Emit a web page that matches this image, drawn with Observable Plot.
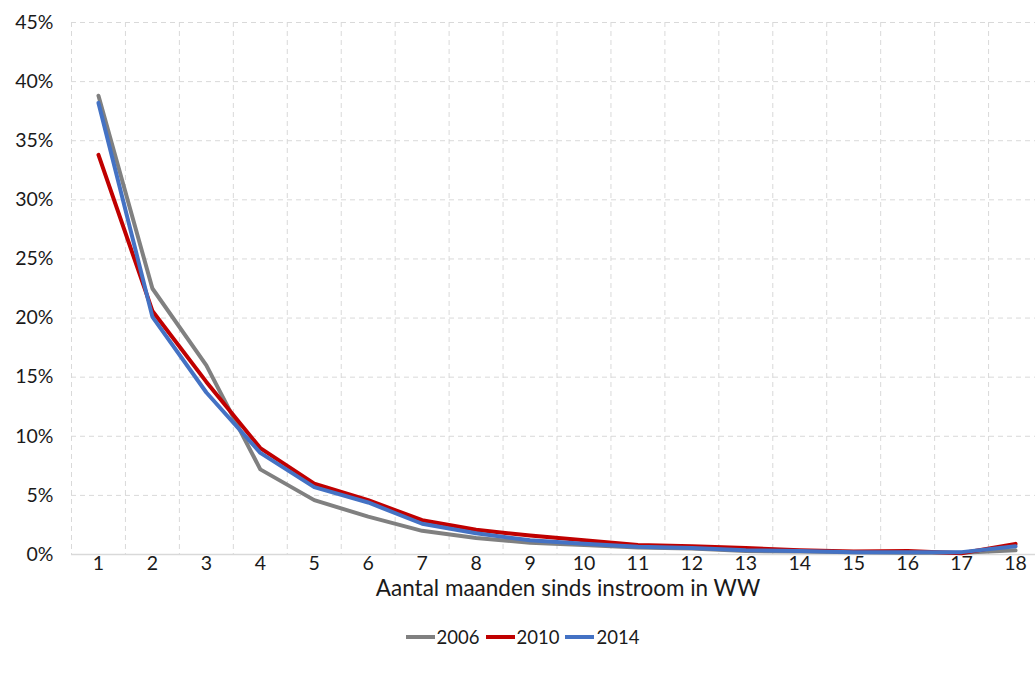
<!DOCTYPE html>
<html>
<head>
<meta charset="utf-8">
<script src="https://cdn.jsdelivr.net/npm/d3@7"></script>
<script src="https://cdn.jsdelivr.net/npm/@observablehq/plot@0.6"></script>
<style>
  html, body { margin: 0; padding: 0; background: #fff; overflow: hidden; }
  body { width: 1035px; height: 675px; font-family: Lato, "Open Sans", sans-serif; color: #1a1a1a; }
  #chart svg { display: block; }
  #xtitle { width: 1035px; height: 30px; position: relative; font-size: 22.5px; line-height: 26px; }
  #xtitle span { position: absolute; left: 568px; top: 3px; transform: translateX(-50%); white-space: nowrap; }
  #legend { display: flex; justify-content: center; align-items: center; gap: 6px; margin-top: 24px; padding-left: 10px; font-size: 18.5px; line-height: 22px; }
  .item { display: flex; align-items: center; gap: 2px; }
  .sw { display: inline-block; width: 29px; height: 4px; }
</style>
</head>
<body>
<div id="chart"></div>
<div id="xtitle"><span></span></div>
<div id="legend"></div>
<script>
const months = [1,2,3,4,5,6,7,8,9,10,11,12,13,14,15,16,17,18];
const seriesNames = ["2006", "2010", "2014"];
const values2006 = [38.8,22.5,16.0,7.2,4.6,3.2,2.0,1.4,1.0,0.8,0.6,0.5,0.3,0.25,0.2,0.15,0.15,0.35];
const values2010 = [33.8,20.6,14.6,9.0,6.0,4.6,2.9,2.1,1.6,1.2,0.8,0.7,0.55,0.35,0.25,0.3,0.1,0.9];
const values2014 = [38.2,20.1,13.7,8.6,5.7,4.4,2.6,1.8,1.2,0.9,0.65,0.55,0.35,0.3,0.2,0.2,0.2,0.7];
const colors = ["#808080", "#c00000", "#4472c4"];
const yTicks = [0,5,10,15,20,25,30,35,40,45];
const xTitle = "Aantal maanden sinds instroom in WW";

const allValues = [values2006, values2010, values2014];
const data = [];
seriesNames.forEach((s, i) => months.forEach((m, j) => data.push({series: s, month: m, value: allValues[i][j]})));
const gridX = months.map(m => m - 0.5);

const chart = Plot.plot({
  width: 1035,
  height: 572,
  marginLeft: 71,
  marginRight: 0,
  marginTop: 22,
  marginBottom: 18,
  style: {fontFamily: "Lato, 'Open Sans', sans-serif", fontSize: "19.5px", color: "#1a1a1a", overflow: "visible"},
  x: {type: "linear", domain: [0.5, 18.37]},
  y: {domain: [0, 45]},
  color: {domain: seriesNames, range: colors},
  marks: [
    Plot.ruleY(yTicks.filter(d => d > 0), {stroke: "#d9d9d9", strokeDasharray: "5,4", strokeWidth: 1}),
    Plot.ruleX(gridX, {stroke: "#d9d9d9", strokeDasharray: "5,4", strokeWidth: 1}),
    Plot.ruleY([0], {stroke: "#d9d9d9", strokeWidth: 1.5}),
    Plot.axisY({ticks: yTicks, tickSize: 0, tickPadding: 18, tickFormat: d => d + "%", label: null}),
    Plot.axisX({ticks: months, tickSize: 0, tickPadding: 2, tickFormat: d => String(d), label: null}),
    Plot.line(data, {x: "month", y: "value", z: "series", stroke: "series", strokeWidth: 4, strokeLinejoin: "round", strokeLinecap: "round"})
  ]
});
document.getElementById("chart").appendChild(chart);
document.querySelector("#xtitle span").textContent = xTitle;

const legend = document.getElementById("legend");
seriesNames.forEach((s, i) => {
  const it = document.createElement("div");
  it.className = "item";
  const sw = document.createElement("span");
  sw.className = "sw";
  sw.style.background = colors[i];
  const t = document.createElement("span");
  t.textContent = s;
  it.appendChild(sw); it.appendChild(t);
  legend.appendChild(it);
});
</script>
</body>
</html>
